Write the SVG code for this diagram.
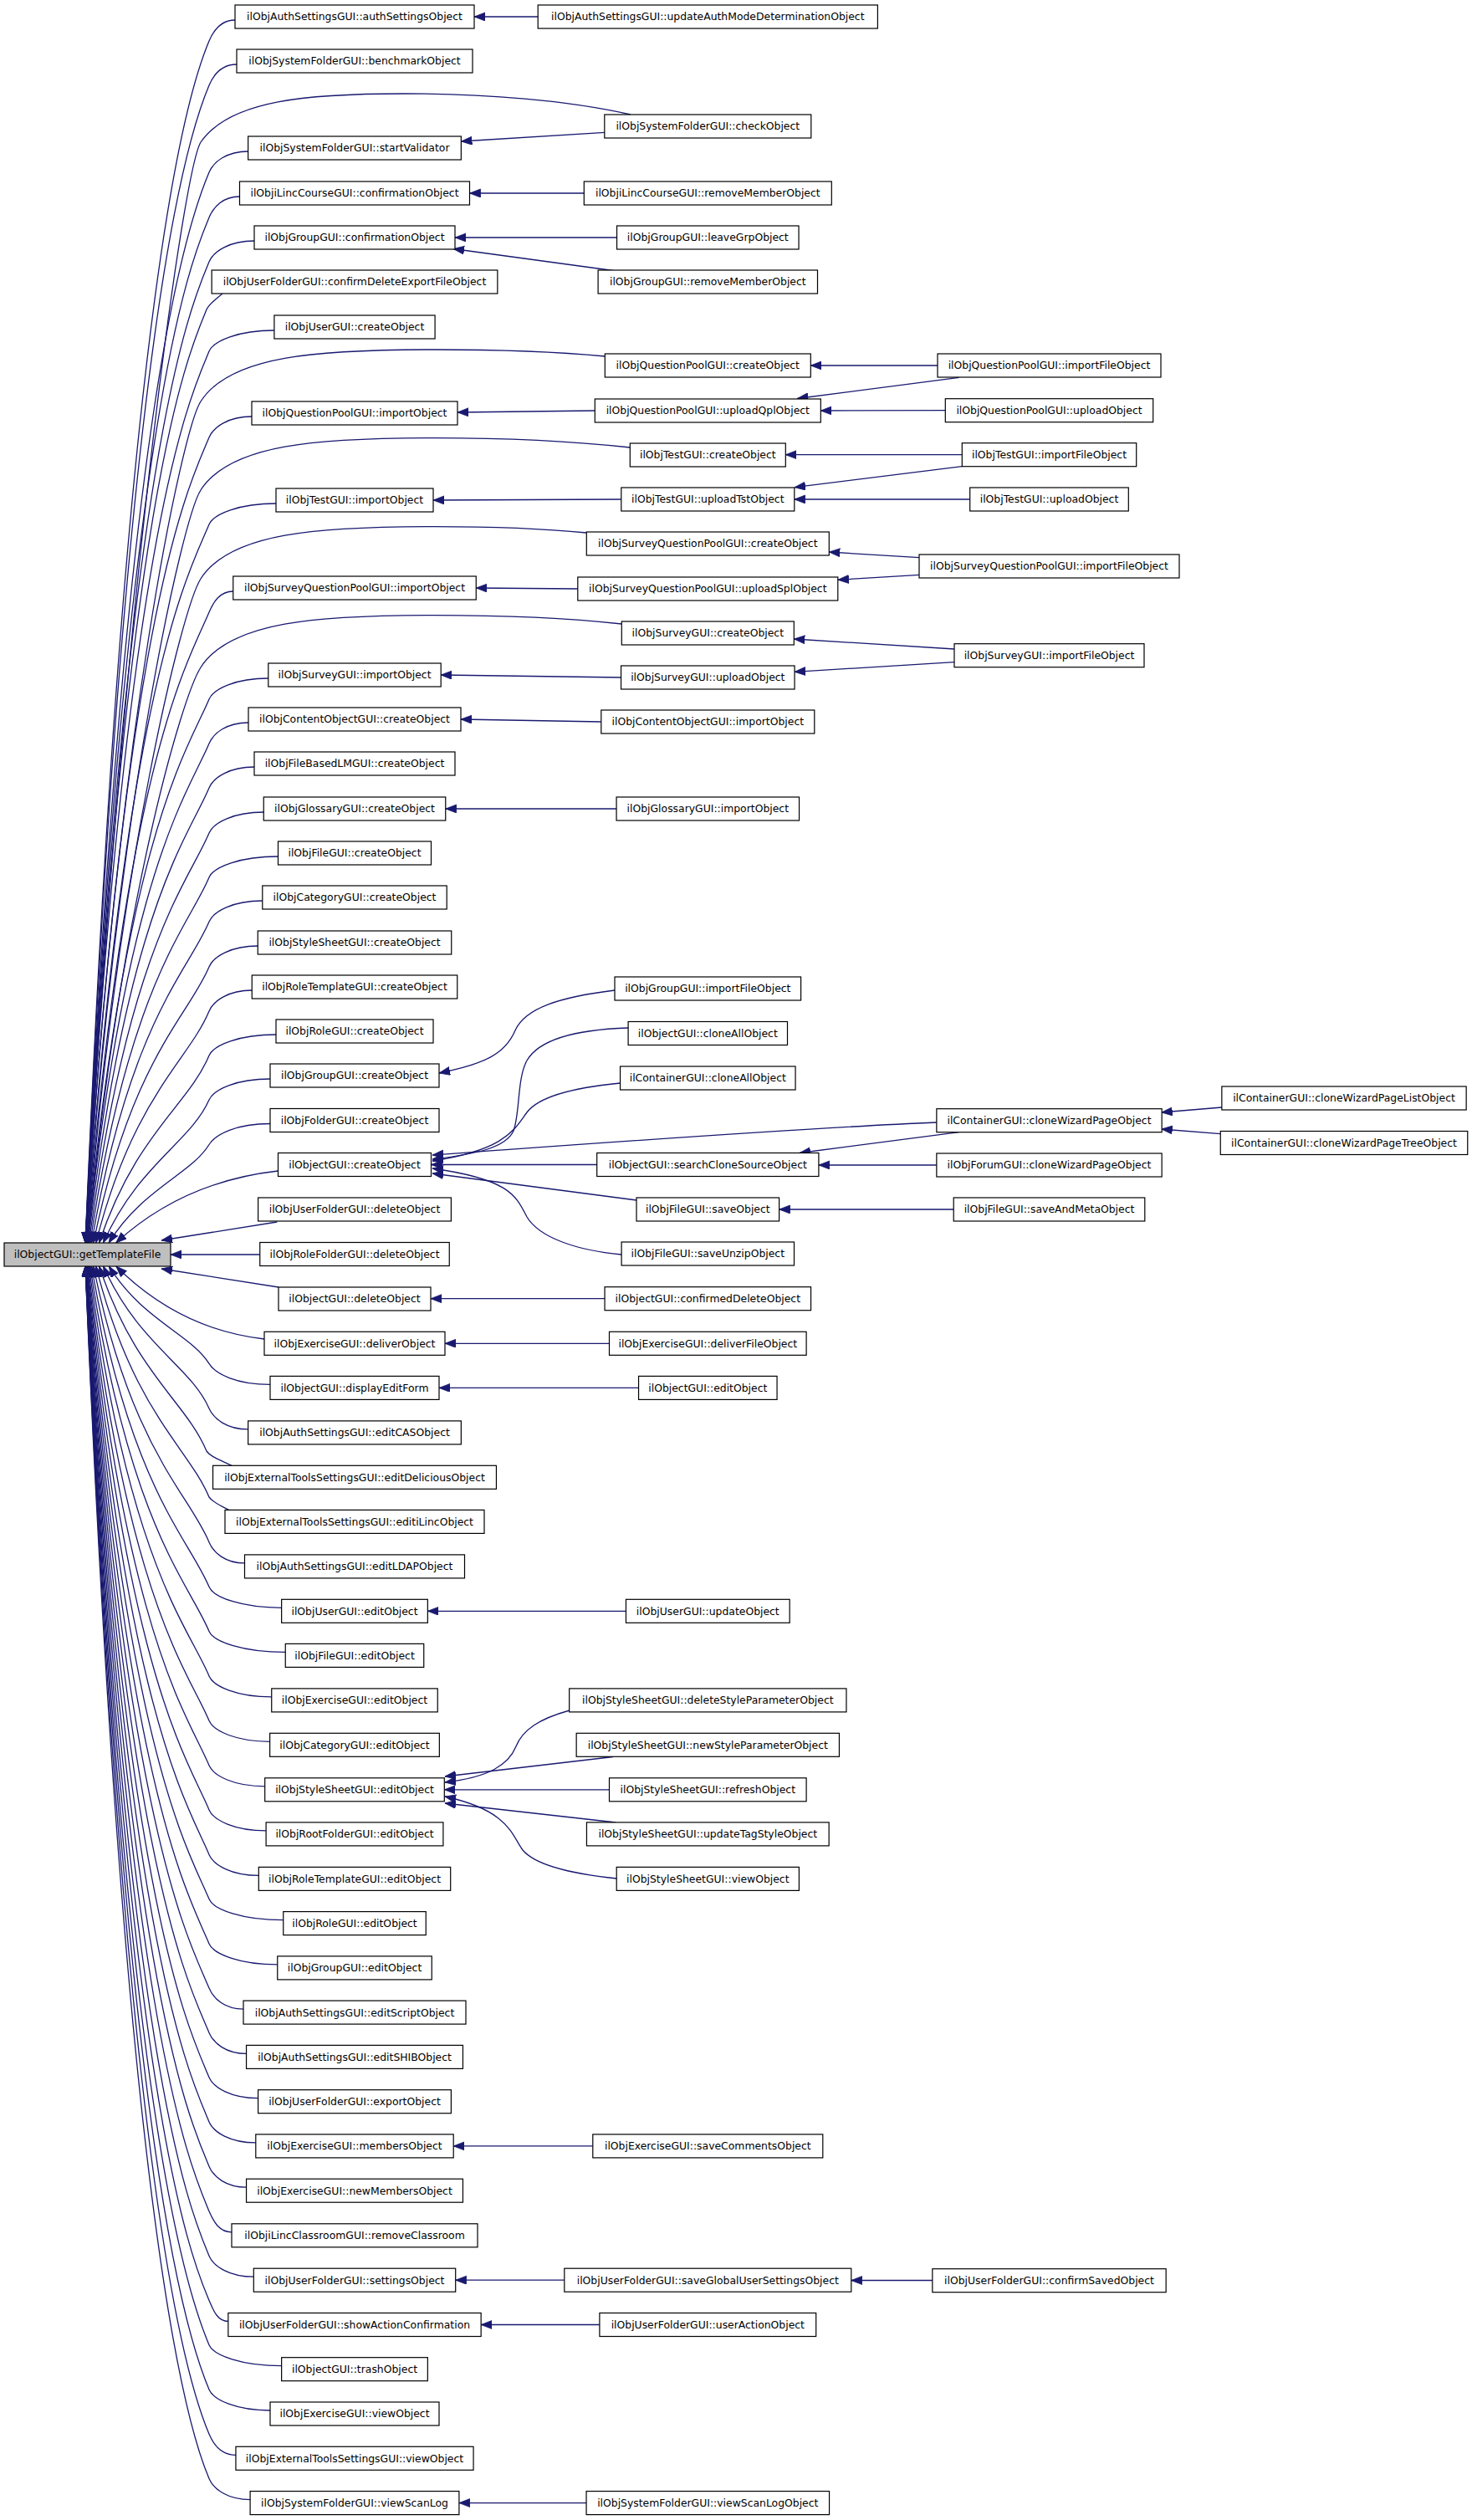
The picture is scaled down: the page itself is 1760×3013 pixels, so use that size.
<svg xmlns="http://www.w3.org/2000/svg" width="1760" height="3013" viewBox="0 0 1760 3013">
<style>
.n rect{fill:#fff;stroke:#000;stroke-width:1.2}
.g rect{fill:#bfbfbf;stroke:#000;stroke-width:1.2}
text{font-family:"DejaVu Sans","Liberation Sans",sans-serif;font-size:12.4px;text-anchor:middle;fill:#000}
.e path{fill:none;stroke:#191970;stroke-width:1.3;marker-end:url(#a)}
</style>
<defs>
<marker id="a" markerUnits="userSpaceOnUse" markerWidth="14" markerHeight="11" viewBox="0 0 14 11" refX="13" refY="5" orient="auto"><path d="M0,0 L13,5 L0,10 z" fill="#191970" stroke="#191970" stroke-width="0.8"/></marker>
</defs>
<rect width="1760" height="3013" fill="#fff"/>
<g id="edges" class="e">
<path d="M281,24 C264,24 255.3,36.5 250,49 C224.8,109 150.8,336.4 102,1486"/>
<path d="M283,77 C264.8,77 255.3,89.5 250,102 C224.8,162 150.9,378.8 102.1,1486"/>
<path d="M296.7,181 C271,181 255.3,193.5 250,206 C224.8,266 150.9,462 102.1,1486"/>
<path d="M286.5,235 C266.4,235 255.3,247.5 250,260 C224.8,320 150.9,505.2 102.1,1486"/>
<path d="M304,288 C274.3,288 255.3,300.5 250,313 C224.8,373 150.9,549 102.1,1486"/>
<path d="M266,351 C258,358 251,362 247,370 C222,430 150,597.4 102.2,1486"/>
<path d="M327.9,395 C285.1,395 255.3,407.5 250,420 C224.8,480 151,639.9 102.2,1486"/>
<path d="M301,498 C273,498 255.3,510.5 250,523 C224.8,583 151.1,727.5 102.4,1486"/>
<path d="M330,602 C286,602 255.3,614.5 250,627 C224.8,687 151.3,815.9 102.7,1486"/>
<path d="M278.8,707 C263,707 255.3,719.5 250,732 C224.8,792 151.6,905.1 103.2,1486"/>
<path d="M320.8,811 C281.9,811 255.3,823.5 250,836 C224.8,896 152.2,993.5 104,1486"/>
<path d="M297,864 C271.1,864 255.3,876.5 250,889 C224.8,949 152.6,1038.6 104.6,1486"/>
<path d="M304,917 C274.3,917 255.3,929.5 250,942 C224.8,1002 153.1,1083.6 105.3,1486"/>
<path d="M315.3,971 C279.4,971 255.3,983.5 250,996 C224.8,1056 153.8,1129.5 106.4,1486"/>
<path d="M332.5,1024 C287.1,1024 255.3,1036.5 250,1049 C224.8,1109 154.7,1174.6 107.7,1486"/>
<path d="M313.8,1077 C278.7,1077 255.3,1089.5 250,1102 C224.8,1162 155.8,1219.6 109.4,1486"/>
<path d="M308.3,1131 C276.3,1131 255.3,1143.5 250,1156 C224.8,1216 157.3,1265.5 111.7,1486"/>
<path d="M301.3,1184 C273.1,1184 255.3,1196.5 250,1209 C224.8,1269 159.3,1310.6 114.7,1486"/>
<path d="M330,1237 C286,1237 255.3,1249.5 250,1262 C224.8,1322 161.9,1355.6 118.5,1486"/>
<path d="M323,1290 C282.8,1290 255.6,1302.5 250,1315 C227.2,1366.3 165.2,1392 123.5,1486"/>
<path d="M323,1343.5 C282.8,1343.5 257.7,1356 250,1368.5 C228.4,1403.8 169.7,1421.4 130.1,1486"/>
<path d="M332.5,1400 C270,1407 200,1430 138.6,1486"/>
<path d="M331.3,1461 L193,1483"/>
<path d="M310.8,1500 L204,1500"/>
<path d="M333,1539 L193,1517"/>
<path d="M316,1601 C255,1594 195,1570 138.8,1514"/>
<path d="M323,1655.4 C282.8,1655.4 257.7,1642.9 250,1630.4 C228.5,1595.5 169.8,1578 130.3,1514"/>
<path d="M296.7,1708.9 C271,1708.9 255.6,1696.4 250,1683.9 C227.3,1632.9 165.3,1607.4 123.6,1514"/>
<path d="M277,1752.3 C262,1745 252,1742 247,1735 C221.8,1675 161,1641.8 118.6,1514"/>
<path d="M273.6,1805.4 C264,1800 255,1797 250,1790 C224.8,1730 159.3,1688.6 114.7,1514"/>
<path d="M292.5,1868.9 C269.1,1868.9 255.3,1856.4 250,1843.9 C224.8,1783.9 157.3,1734.4 111.7,1514"/>
<path d="M336.7,1922.3 C289,1922.3 255.3,1909.8 250,1897.3 C224.8,1837.3 155.8,1779.8 109.4,1514"/>
<path d="M341.3,1975.4 C291.1,1975.4 255.3,1962.9 250,1950.4 C224.8,1890.4 154.7,1824.9 107.7,1514"/>
<path d="M324.8,2028.9 C283.7,2028.9 255.3,2016.4 250,2003.9 C224.8,1943.9 153.8,1870.4 106.4,1514"/>
<path d="M322.7,2082.3 C282.7,2082.3 255.3,2069.8 250,2057.3 C224.8,1997.3 153.1,1915.8 105.3,1514"/>
<path d="M316.7,2135.8 C280,2135.8 255.3,2123.3 250,2110.8 C224.8,2050.8 152.6,1961.3 104.6,1514"/>
<path d="M318.1,2188.9 C280.6,2188.9 255.3,2176.4 250,2163.9 C224.8,2103.9 152.2,2006.4 104,1514"/>
<path d="M309.3,2242.4 C276.7,2242.4 255.3,2229.9 250,2217.4 C224.8,2157.4 151.8,2051.9 103.5,1514"/>
<path d="M338.8,2295.6 C290,2295.6 255.3,2283.1 250,2270.6 C224.8,2210.6 151.6,2097.1 103.2,1514"/>
<path d="M331.8,2348.9 C286.8,2348.9 255.3,2336.4 250,2323.9 C224.8,2263.9 151.4,2142.4 102.9,1514"/>
<path d="M291,2402.1 C268.4,2402.1 255.3,2389.6 250,2377.1 C224.8,2317.1 151.3,2187.6 102.7,1514"/>
<path d="M294.6,2455.4 C270.1,2455.4 255.3,2442.9 250,2430.4 C224.8,2370.4 151.2,2232.9 102.5,1514"/>
<path d="M308.6,2508.7 C276.4,2508.7 255.3,2496.2 250,2483.7 C224.8,2423.7 151.1,2278.2 102.4,1514"/>
<path d="M305.8,2561.9 C275.1,2561.9 255.3,2549.4 250,2536.9 C224.8,2476.9 151,2323.5 102.3,1514"/>
<path d="M294.6,2615.2 C270.1,2615.2 255.3,2602.7 250,2590.2 C224.8,2530.2 151,2368.8 102.2,1514"/>
<path d="M277,2668.8 C262.1,2668.8 255.3,2656.3 250,2643.8 C224.8,2583.8 151,2414.3 102.2,1514"/>
<path d="M303.3,2722.2 C274,2722.2 255.3,2709.7 250,2697.2 C224.8,2637.2 150.9,2460.6 102.1,1514"/>
<path d="M272.9,2775.5 C260.3,2775.5 255.3,2763 250,2750.5 C224.8,2690.5 150.9,2503.2 102.1,1514"/>
<path d="M336.7,2828.7 C289,2828.7 255.3,2816.2 250,2803.7 C224.8,2743.7 150.9,2545.8 102.1,1514"/>
<path d="M323,2882 C282.8,2882 255.3,2869.5 250,2857 C224.8,2797 150.9,2588.4 102.1,1514"/>
<path d="M282,2935.3 C264.4,2935.3 255.3,2922.8 250,2910.3 C224.8,2850.3 150.8,2631 102,1514"/>
<path d="M299.1,2988.6 C272.1,2988.6 255.3,2976.1 250,2963.6 C224.8,2903.6 150.8,2673.7 102,1514"/>
<path d="M754,137 C680,120 580,112 484,112 C370,112 275,119 240,170 C220,203 150,680 102.3,1486"/>
<path d="M723.3,426 C660,420 590,418 519,418 C380,418 275,425 240,480 C218,514 140.5,872 102.5,1486"/>
<path d="M753.3,535 C680,527 600,523.6 519,523.6 C380,523.6 275,531 240,586 C218,620 141,960 103,1486"/>
<path d="M701.3,637 C640,631 580,629.6 519,629.6 C380,629.6 275,637 240,692 C218,726 142,1030 104,1486"/>
<path d="M743.3,746 C670,738 600,735.6 519,735.6 C380,735.6 275,743 240,798 C218,832 144,1080 105,1486"/>
<path d="M643.3,20 L567,20"/>
<path d="M723.3,158.3 L551.4,169"/>
<path d="M698.3,231 L561.5,231"/>
<path d="M737.6,284 L544,284"/>
<path d="M733,323.5 L542,297.5"/>
<path d="M711.3,491 L547,493"/>
<path d="M742.8,597 L518,598"/>
<path d="M690.8,704 L569.3,703"/>
<path d="M742.6,810 L527,807"/>
<path d="M718.8,863 L551,860"/>
<path d="M737,967 L532.8,967"/>
<path d="M735,1184 C670,1192 628,1205 616,1232 C604,1260 580,1272 525,1283"/>
<path d="M751,1229 C690,1231 645,1242 630,1268 C618,1290 622,1330 614,1352 C605,1372 570,1380 517,1386"/>
<path d="M741.5,1295 C690,1300 645,1310 630,1330 C615,1350 605,1375 517,1388"/>
<path d="M1119.8,1342 C950,1349 700,1368 517,1381"/>
<path d="M713.7,1392.5 L515.6,1392.5"/>
<path d="M761,1435 L517,1403"/>
<path d="M743.1,1500 C690,1495 645,1480 630,1455 C617,1430 610,1410 517,1397"/>
<path d="M723,1552.7 L515,1552.7"/>
<path d="M728.5,1606.3 L532,1606.3"/>
<path d="M763.5,1659.4 L525,1659.4"/>
<path d="M748.5,1926.3 L511.4,1926.3"/>
<path d="M681,2045 C645,2055 625,2068 617,2088 C608,2110 585,2125 532,2131"/>
<path d="M733,2100.5 L532,2124"/>
<path d="M728.5,2139.8 L531.3,2139.8"/>
<path d="M736.6,2179 L532,2156"/>
<path d="M737.3,2246 C680,2240 640,2230 625,2212 C612,2195 610,2165 532,2148"/>
<path d="M708.8,2565.9 L542.2,2565.9"/>
<path d="M674.8,2726.2 L544.7,2726.2"/>
<path d="M716.9,2779.5 L575.2,2779.5"/>
<path d="M701.1,2992.6 L548.9,2992.6"/>
<path d="M1121,437 L969.3,437"/>
<path d="M1146.7,451.3 L953.3,476.5"/>
<path d="M1130.3,490.7 L981.3,491"/>
<path d="M1150.3,543.7 L939.3,543.7"/>
<path d="M1150.3,557.7 L950,582.7"/>
<path d="M1159.7,597 L949.8,597"/>
<path d="M1099,666.7 L991.3,660"/>
<path d="M1099,687.3 L1001.8,693.3"/>
<path d="M1141,776 L949.3,764"/>
<path d="M1141,791.7 L950,803.3"/>
<path d="M1146.6,1353.7 L956,1378.5"/>
<path d="M1119.8,1393 L978.9,1393"/>
<path d="M1140.2,1446 L931.6,1446"/>
<path d="M1114.9,2726.5 L1017.8,2726.5"/>
<path d="M1460.9,1324 L1388.7,1330"/>
<path d="M1459.3,1355.7 L1388.7,1350"/>
</g>
<g id="G" class="g"><rect x="5" y="1486" width="199" height="28"/><text x="104.5" y="1504.4">ilObjectGUI::getTemplateFile</text></g>
<g id="n1" class="n"><rect x="281" y="6" width="286" height="28"/><text x="424" y="24.4">ilObjAuthSettingsGUI::authSettingsObject</text></g>
<g id="n2" class="n"><rect x="283" y="59" width="282" height="28"/><text x="424" y="77.4">ilObjSystemFolderGUI::benchmarkObject</text></g>
<g id="n3" class="n"><rect x="296.65" y="163" width="254.7" height="28"/><text x="424" y="181.4">ilObjSystemFolderGUI::startValidator</text></g>
<g id="n4" class="n"><rect x="286.5" y="217" width="275" height="28"/><text x="424" y="235.4">ilObjiLincCourseGUI::confirmationObject</text></g>
<g id="n5" class="n"><rect x="304" y="270" width="240" height="28"/><text x="424" y="288.4">ilObjGroupGUI::confirmationObject</text></g>
<g id="n6" class="n"><rect x="253.15" y="323" width="341.7" height="28"/><text x="424" y="341.4">ilObjUserFolderGUI::confirmDeleteExportFileObject</text></g>
<g id="n7" class="n"><rect x="327.9" y="377" width="192.2" height="28"/><text x="424" y="395.4">ilObjUserGUI::createObject</text></g>
<g id="n8" class="n"><rect x="301" y="480" width="246" height="28"/><text x="424" y="498.4">ilObjQuestionPoolGUI::importObject</text></g>
<g id="n9" class="n"><rect x="330" y="584" width="188" height="28"/><text x="424" y="602.4">ilObjTestGUI::importObject</text></g>
<g id="n10" class="n"><rect x="278.75" y="689" width="290.5" height="28"/><text x="424" y="707.4">ilObjSurveyQuestionPoolGUI::importObject</text></g>
<g id="n11" class="n"><rect x="320.8" y="793" width="206.4" height="28"/><text x="424" y="811.4">ilObjSurveyGUI::importObject</text></g>
<g id="n12" class="n"><rect x="297" y="846" width="254" height="28"/><text x="424" y="864.4">ilObjContentObjectGUI::createObject</text></g>
<g id="n13" class="n"><rect x="304" y="899" width="240" height="28"/><text x="424" y="917.4">ilObjFileBasedLMGUI::createObject</text></g>
<g id="n14" class="n"><rect x="315.25" y="953" width="217.5" height="28"/><text x="424" y="971.4">ilObjGlossaryGUI::createObject</text></g>
<g id="n15" class="n"><rect x="332.5" y="1006" width="183" height="28"/><text x="424" y="1024.4">ilObjFileGUI::createObject</text></g>
<g id="n16" class="n"><rect x="313.8" y="1059" width="220.4" height="28"/><text x="424" y="1077.4">ilObjCategoryGUI::createObject</text></g>
<g id="n17" class="n"><rect x="308.25" y="1113" width="231.5" height="28"/><text x="424" y="1131.4">ilObjStyleSheetGUI::createObject</text></g>
<g id="n18" class="n"><rect x="301.25" y="1166" width="245.5" height="28"/><text x="424" y="1184.4">ilObjRoleTemplateGUI::createObject</text></g>
<g id="n19" class="n"><rect x="330" y="1219" width="188" height="28"/><text x="424" y="1237.4">ilObjRoleGUI::createObject</text></g>
<g id="n20" class="n"><rect x="323" y="1272" width="202" height="28"/><text x="424" y="1290.4">ilObjGroupGUI::createObject</text></g>
<g id="n21" class="n"><rect x="323" y="1325.5" width="202" height="28"/><text x="424" y="1343.9">ilObjFolderGUI::createObject</text></g>
<g id="n22" class="n"><rect x="332.5" y="1378.5" width="183" height="28"/><text x="424" y="1396.9">ilObjectGUI::createObject</text></g>
<g id="n23" class="n"><rect x="308.6" y="1432" width="230.8" height="28"/><text x="424" y="1450.4">ilObjUserFolderGUI::deleteObject</text></g>
<g id="n24" class="n"><rect x="310.75" y="1485.5" width="226.5" height="28"/><text x="424" y="1503.9">ilObjRoleFolderGUI::deleteObject</text></g>
<g id="n25" class="n"><rect x="333" y="1539" width="182" height="28"/><text x="424" y="1557.4">ilObjectGUI::deleteObject</text></g>
<g id="n26" class="n"><rect x="316" y="1592.3" width="216" height="28"/><text x="424" y="1610.7">ilObjExerciseGUI::deliverObject</text></g>
<g id="n27" class="n"><rect x="323" y="1645.4" width="202" height="28"/><text x="424" y="1663.8">ilObjectGUI::displayEditForm</text></g>
<g id="n28" class="n"><rect x="296.65" y="1698.9" width="254.7" height="28"/><text x="424" y="1717.3">ilObjAuthSettingsGUI::editCASObject</text></g>
<g id="n29" class="n"><rect x="254.55" y="1752.3" width="338.9" height="28"/><text x="424" y="1770.7">ilObjExternalToolsSettingsGUI::editDeliciousObject</text></g>
<g id="n30" class="n"><rect x="269" y="1805.4" width="310" height="28"/><text x="424" y="1823.8">ilObjExternalToolsSettingsGUI::editiLincObject</text></g>
<g id="n31" class="n"><rect x="292.5" y="1858.9" width="263" height="28"/><text x="424" y="1877.3">ilObjAuthSettingsGUI::editLDAPObject</text></g>
<g id="n32" class="n"><rect x="336.65" y="1912.3" width="174.7" height="28"/><text x="424" y="1930.7">ilObjUserGUI::editObject</text></g>
<g id="n33" class="n"><rect x="341.25" y="1965.4" width="165.5" height="28"/><text x="424" y="1983.8">ilObjFileGUI::editObject</text></g>
<g id="n34" class="n"><rect x="324.75" y="2018.9" width="198.5" height="28"/><text x="424" y="2037.3">ilObjExerciseGUI::editObject</text></g>
<g id="n35" class="n"><rect x="322.65" y="2072.3" width="202.7" height="28"/><text x="424" y="2090.7">ilObjCategoryGUI::editObject</text></g>
<g id="n36" class="n"><rect x="316.7" y="2125.8" width="214.6" height="28"/><text x="424" y="2144.2">ilObjStyleSheetGUI::editObject</text></g>
<g id="n37" class="n"><rect x="318.1" y="2178.9" width="211.8" height="28"/><text x="424" y="2197.3">ilObjRootFolderGUI::editObject</text></g>
<g id="n38" class="n"><rect x="309.3" y="2232.4" width="229.4" height="28"/><text x="424" y="2250.8">ilObjRoleTemplateGUI::editObject</text></g>
<g id="n39" class="n"><rect x="338.75" y="2285.6" width="170.5" height="28"/><text x="424" y="2304">ilObjRoleGUI::editObject</text></g>
<g id="n40" class="n"><rect x="331.75" y="2338.9" width="184.5" height="28"/><text x="424" y="2357.3">ilObjGroupGUI::editObject</text></g>
<g id="n41" class="n"><rect x="291" y="2392.1" width="266" height="28"/><text x="424" y="2410.5">ilObjAuthSettingsGUI::editScriptObject</text></g>
<g id="n42" class="n"><rect x="294.55" y="2445.4" width="258.9" height="28"/><text x="424" y="2463.8">ilObjAuthSettingsGUI::editSHIBObject</text></g>
<g id="n43" class="n"><rect x="308.6" y="2498.7" width="230.8" height="28"/><text x="424" y="2517.1">ilObjUserFolderGUI::exportObject</text></g>
<g id="n44" class="n"><rect x="305.8" y="2551.9" width="236.4" height="28"/><text x="424" y="2570.3">ilObjExerciseGUI::membersObject</text></g>
<g id="n45" class="n"><rect x="294.55" y="2605.2" width="258.9" height="28"/><text x="424" y="2623.6">ilObjExerciseGUI::newMembersObject</text></g>
<g id="n46" class="n"><rect x="277" y="2658.8" width="294" height="28"/><text x="424" y="2677.2">ilObjiLincClassroomGUI::removeClassroom</text></g>
<g id="n47" class="n"><rect x="303.3" y="2712.2" width="241.4" height="28"/><text x="424" y="2730.6">ilObjUserFolderGUI::settingsObject</text></g>
<g id="n48" class="n"><rect x="272.85" y="2765.5" width="302.3" height="28"/><text x="424" y="2783.9">ilObjUserFolderGUI::showActionConfirmation</text></g>
<g id="n49" class="n"><rect x="336.65" y="2818.7" width="174.7" height="28"/><text x="424" y="2837.1">ilObjectGUI::trashObject</text></g>
<g id="n50" class="n"><rect x="323" y="2872" width="202" height="28"/><text x="424" y="2890.4">ilObjExerciseGUI::viewObject</text></g>
<g id="n51" class="n"><rect x="281.95" y="2925.3" width="284.1" height="28"/><text x="424" y="2943.7">ilObjExternalToolsSettingsGUI::viewObject</text></g>
<g id="n52" class="n"><rect x="299.1" y="2978.6" width="249.8" height="28"/><text x="424" y="2997">ilObjSystemFolderGUI::viewScanLog</text></g>
<g id="m1" class="n"><rect x="643.2" y="6" width="406.2" height="28"/><text x="846.3" y="24.4">ilObjAuthSettingsGUI::updateAuthModeDeterminationObject</text></g>
<g id="m2" class="n"><rect x="722.8" y="137" width="247" height="28"/><text x="846.3" y="155.4">ilObjSystemFolderGUI::checkObject</text></g>
<g id="m3" class="n"><rect x="698.3" y="217" width="296" height="28"/><text x="846.3" y="235.4">ilObjiLincCourseGUI::removeMemberObject</text></g>
<g id="m4" class="n"><rect x="737.55" y="270" width="217.5" height="28"/><text x="846.3" y="288.4">ilObjGroupGUI::leaveGrpObject</text></g>
<g id="m5" class="n"><rect x="715.1" y="323" width="262.4" height="28"/><text x="846.3" y="341.4">ilObjGroupGUI::removeMemberObject</text></g>
<g id="m6" class="n"><rect x="723.3" y="423" width="246" height="28"/><text x="846.3" y="441.4">ilObjQuestionPoolGUI::createObject</text></g>
<g id="m7" class="n"><rect x="711.3" y="477" width="270" height="28"/><text x="846.3" y="495.4">ilObjQuestionPoolGUI::uploadQplObject</text></g>
<g id="m8" class="n"><rect x="753.3" y="530" width="186" height="28"/><text x="846.3" y="548.4">ilObjTestGUI::createObject</text></g>
<g id="m9" class="n"><rect x="742.8" y="583" width="207" height="28"/><text x="846.3" y="601.4">ilObjTestGUI::uploadTstObject</text></g>
<g id="m10" class="n"><rect x="701.3" y="636" width="290" height="28"/><text x="846.3" y="654.4">ilObjSurveyQuestionPoolGUI::createObject</text></g>
<g id="m11" class="n"><rect x="690.8" y="690" width="311" height="28"/><text x="846.3" y="708.4">ilObjSurveyQuestionPoolGUI::uploadSplObject</text></g>
<g id="m12" class="n"><rect x="743.3" y="743" width="206" height="28"/><text x="846.3" y="761.4">ilObjSurveyGUI::createObject</text></g>
<g id="m13" class="n"><rect x="742.55" y="796" width="207.5" height="28"/><text x="846.3" y="814.4">ilObjSurveyGUI::uploadObject</text></g>
<g id="m14" class="n"><rect x="718.8" y="849" width="255" height="28"/><text x="846.3" y="867.4">ilObjContentObjectGUI::importObject</text></g>
<g id="m15" class="n"><rect x="737.05" y="953" width="218.5" height="28"/><text x="846.3" y="971.4">ilObjGlossaryGUI::importObject</text></g>
<g id="m16" class="n"><rect x="735" y="1168" width="222.6" height="28"/><text x="846.3" y="1186.4">ilObjGroupGUI::importFileObject</text></g>
<g id="m17" class="n"><rect x="751.1" y="1221.5" width="190.4" height="28"/><text x="846.3" y="1239.9">ilObjectGUI::cloneAllObject</text></g>
<g id="m18" class="n"><rect x="741.55" y="1275" width="209.5" height="28"/><text x="846.3" y="1293.4">ilContainerGUI::cloneAllObject</text></g>
<g id="m19" class="n"><rect x="713.7" y="1378.5" width="265.2" height="28"/><text x="846.3" y="1396.9">ilObjectGUI::searchCloneSourceObject</text></g>
<g id="m20" class="n"><rect x="761" y="1432" width="170.6" height="28"/><text x="846.3" y="1450.4">ilObjFileGUI::saveObject</text></g>
<g id="m21" class="n"><rect x="743.1" y="1485" width="206.4" height="28"/><text x="846.3" y="1503.4">ilObjFileGUI::saveUnzipObject</text></g>
<g id="m22" class="n"><rect x="723.05" y="1538.7" width="246.5" height="28"/><text x="846.3" y="1557.1">ilObjectGUI::confirmedDeleteObject</text></g>
<g id="m23" class="n"><rect x="728.5" y="1592.3" width="235.6" height="28"/><text x="846.3" y="1610.7">ilObjExerciseGUI::deliverFileObject</text></g>
<g id="m24" class="n"><rect x="763.55" y="1645.4" width="165.5" height="28"/><text x="846.3" y="1663.8">ilObjectGUI::editObject</text></g>
<g id="m25" class="n"><rect x="748.45" y="1912.3" width="195.7" height="28"/><text x="846.3" y="1930.7">ilObjUserGUI::updateObject</text></g>
<g id="m26" class="n"><rect x="680.65" y="2018.9" width="331.3" height="28"/><text x="846.3" y="2037.3">ilObjStyleSheetGUI::deleteStyleParameterObject</text></g>
<g id="m27" class="n"><rect x="689.15" y="2072.3" width="314.3" height="28"/><text x="846.3" y="2090.7">ilObjStyleSheetGUI::newStyleParameterObject</text></g>
<g id="m28" class="n"><rect x="728.5" y="2125.8" width="235.6" height="28"/><text x="846.3" y="2144.2">ilObjStyleSheetGUI::refreshObject</text></g>
<g id="m29" class="n"><rect x="701.45" y="2178.9" width="289.7" height="28"/><text x="846.3" y="2197.3">ilObjStyleSheetGUI::updateTagStyleObject</text></g>
<g id="m30" class="n"><rect x="737.2" y="2232.4" width="218.2" height="28"/><text x="846.3" y="2250.8">ilObjStyleSheetGUI::viewObject</text></g>
<g id="m31" class="n"><rect x="708.8" y="2551.9" width="275" height="28"/><text x="846.3" y="2570.3">ilObjExerciseGUI::saveCommentsObject</text></g>
<g id="m32" class="n"><rect x="674.8" y="2712.2" width="343" height="28"/><text x="846.3" y="2730.6">ilObjUserFolderGUI::saveGlobalUserSettingsObject</text></g>
<g id="m33" class="n"><rect x="716.9" y="2765.5" width="258.8" height="28"/><text x="846.3" y="2783.9">ilObjUserFolderGUI::userActionObject</text></g>
<g id="m34" class="n"><rect x="701.05" y="2978.6" width="290.5" height="28"/><text x="846.3" y="2997">ilObjSystemFolderGUI::viewScanLogObject</text></g>
<g id="r1" class="n"><rect x="1121" y="423" width="267" height="28"/><text x="1254.5" y="441.4">ilObjQuestionPoolGUI::importFileObject</text></g>
<g id="r2" class="n"><rect x="1130.3" y="476.7" width="248.4" height="28"/><text x="1254.5" y="495.1">ilObjQuestionPoolGUI::uploadObject</text></g>
<g id="r3" class="n"><rect x="1150.3" y="529.7" width="208.4" height="28"/><text x="1254.5" y="548.1">ilObjTestGUI::importFileObject</text></g>
<g id="r4" class="n"><rect x="1159.7" y="583" width="189.6" height="28"/><text x="1254.5" y="601.4">ilObjTestGUI::uploadObject</text></g>
<g id="r5" class="n"><rect x="1099" y="663" width="311" height="28"/><text x="1254.5" y="681.4">ilObjSurveyQuestionPoolGUI::importFileObject</text></g>
<g id="r6" class="n"><rect x="1141" y="769.7" width="227" height="28"/><text x="1254.5" y="788.1">ilObjSurveyGUI::importFileObject</text></g>
<g id="r7" class="n"><rect x="1119.85" y="1325.7" width="269.3" height="28"/><text x="1254.5" y="1344.1">ilContainerGUI::cloneWizardPageObject</text></g>
<g id="r8" class="n"><rect x="1119.85" y="1379" width="269.3" height="28"/><text x="1254.5" y="1397.4">ilObjForumGUI::cloneWizardPageObject</text></g>
<g id="r9" class="n"><rect x="1140.2" y="1432" width="228.6" height="28"/><text x="1254.5" y="1450.4">ilObjFileGUI::saveAndMetaObject</text></g>
<g id="r10" class="n"><rect x="1114.85" y="2712.7" width="279.3" height="28"/><text x="1254.5" y="2731.1">ilObjUserFolderGUI::confirmSavedObject</text></g>
<g id="f1" class="n"><rect x="1460.85" y="1299" width="292.3" height="28"/><text x="1607" y="1317.4">ilContainerGUI::cloneWizardPageListObject</text></g>
<g id="f2" class="n"><rect x="1459.25" y="1352.5" width="295.5" height="28"/><text x="1607" y="1370.9">ilContainerGUI::cloneWizardPageTreeObject</text></g>
</svg>
